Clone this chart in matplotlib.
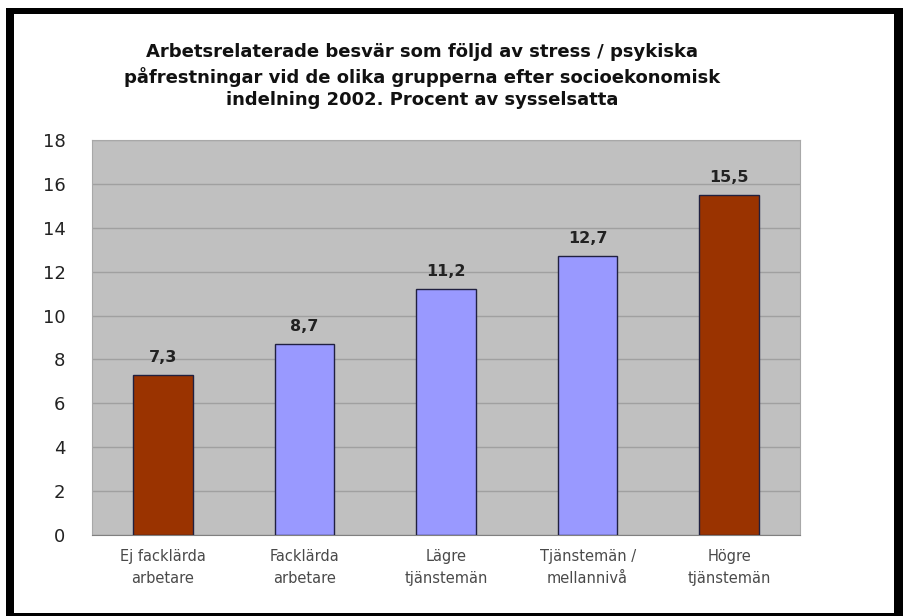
import matplotlib.pyplot as plt
from matplotlib.patches import Rectangle

grupper = ['Ej facklärda\narbetare', 'Facklärda\narbetare', 'Lägre\ntjänstemän',
           'Tjänstemän /\nmellannivå', 'Högre\ntjänstemän']
procent = [7.3, 8.7, 11.2, 12.7, 15.5]
farger = ['#9a3300', '#9999ff', '#9999ff', '#9999ff', '#9a3300']
yticks = [0, 2, 4, 6, 8, 10, 12, 14, 16, 18]

plt.rcParams['font.family'] = ['DejaVu Sans']

fig = plt.figure(figsize=(9.04, 6.16), dpi=100)
fig.patch.set_facecolor('white')

# svart ram runt hela diagrammet
fig.patches.append(Rectangle((6 / 904, 0), 898 / 904, 608 / 616, transform=fig.transFigure,
                             facecolor='black', edgecolor='none', zorder=-2))
fig.patches.append(Rectangle((14 / 904, 3 / 616), 880 / 904, 599 / 616, transform=fig.transFigure,
                             facecolor='white', edgecolor='none', zorder=-1))

ax = fig.add_axes([92 / 904, 81 / 616, 708 / 904, 395 / 616])
ax.set_facecolor('#c0c0c0')

x = range(len(grupper))
staplar = ax.bar(x, procent, width=0.42, color=farger, edgecolor='#202040', linewidth=1, zorder=3)

for s, v in zip(staplar, procent):
    ax.text(s.get_x() + s.get_width() / 2, v + 0.45, str(v).replace('.', ','),
            ha='center', va='bottom', fontsize=11.5, fontweight='bold', color='#222222')

ax.set_xlim(-0.5, len(grupper) - 0.5)
ax.set_ylim(0, 18)
ax.set_yticks(yticks)
ax.set_yticklabels([str(t) for t in yticks], fontsize=13, color='#222222')
ax.set_xticks(list(x))
ax.set_xticklabels(grupper, fontsize=10.5, color='#4a4a4a', linespacing=1.6)
ax.tick_params(axis='both', length=0)
ax.tick_params(axis='y', pad=19)
ax.tick_params(axis='x', pad=10)

ax.yaxis.grid(True, color='#a0a0a0', linewidth=1)
ax.set_axisbelow(True)
for side in ['left', 'right', 'top']:
    ax.spines[side].set_color('#a8a8a8')
ax.spines['bottom'].set_color('#808080')

fig.text(422 / 904, 1 - 43 / 616,
         'Arbetsrelaterade besvär som följd av stress / psykiska\n'
         'påfrestningar vid de olika grupperna efter socioekonomisk\n'
         'indelning 2002. Procent av sysselsatta',
         ha='center', va='top', fontsize=13, fontweight='bold', linespacing=1.35, color='#111111')

plt.savefig('out.png', dpi=100)
